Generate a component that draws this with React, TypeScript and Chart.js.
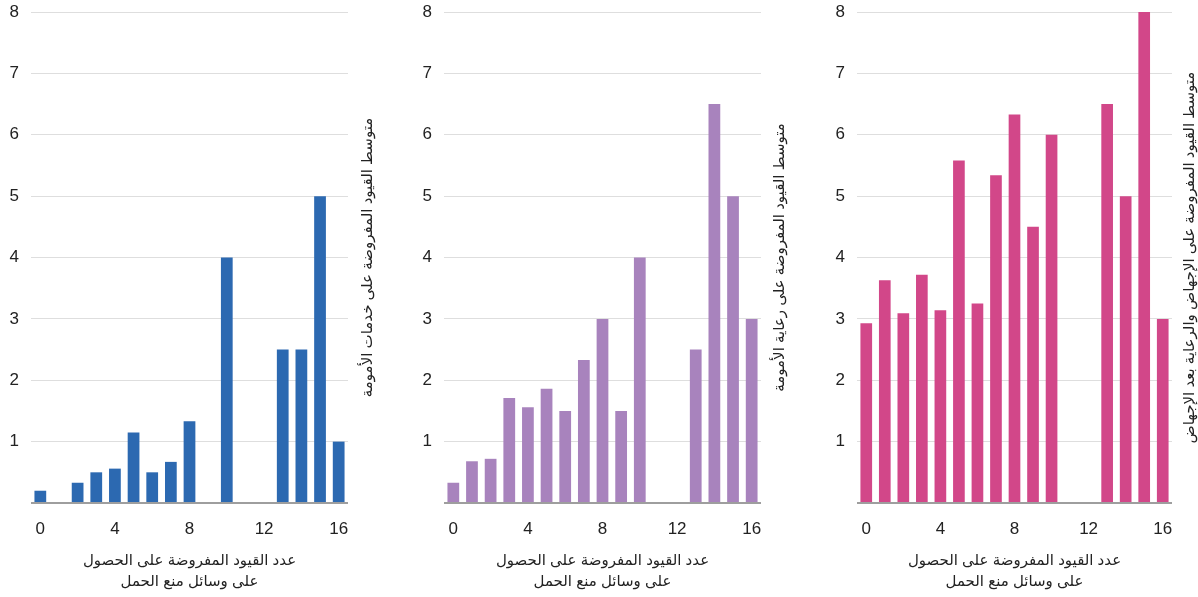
import { useEffect, useRef } from "react";
import { Chart, registerables } from "chart.js";

Chart.register(...registerables);

// Number of restrictions on access to contraception (x categories)
const restrictionCounts = ["0", "1", "2", "3", "4", "5", "6", "7", "8", "9", "10", "11", "12", "13", "14", "15", "16"];

// Average restrictions per group (null = no data for that count)
const maternalServices = [0.2, null, 0.33, 0.5, 0.56, 1.15, 0.5, 0.67, 1.33, null, 4, null, null, 2.5, 2.5, 5, 1];
const maternalCare = [0.33, 0.68, 0.72, 1.71, 1.56, 1.86, 1.5, 2.33, 3, 1.5, 4, null, null, 2.5, 6.5, 5, 3];
const abortionCare = [2.93, 3.63, 3.09, 3.72, 3.14, 5.58, 3.25, 5.34, 6.33, 4.5, 6, null, null, 6.5, 5, 8, 3];

const xTickEvery = 4;
const yMax = 8;

const xTitle = ["عدد القيود المفروضة على الحصول", "على وسائل منع الحمل"];
const yTitleServices = "متوسط القيود المفروضة على خدمات الأمومة";
const yTitleCare = "متوسط القيود المفروضة على رعاية الأمومة";
const yTitleAbortion = "متوسط القيود المفروضة على الإجهاض والرعاية بعد الإجهاض";

const FONT = "Arial, 'Liberation Sans', 'DejaVu Sans', sans-serif";

type PanelProps = {
  values: (number | null)[];
  color: string;
  yTitle: string;
  left: number;
  width: number;
  plotLeft: number;
  plotRight: number;
  titleGap: number;
};

function Panel({ values, color, yTitle, left, width, plotLeft, plotRight, titleGap }: PanelProps) {
  const ref = useRef<HTMLCanvasElement | null>(null);

  useEffect(() => {
    if (!ref.current) return;

    // Vertical title on the right side, read top-to-bottom (rotated counter-clockwise)
    const rightTitle = {
      id: "rightTitle",
      afterDraw(chart: any) {
        const { ctx, chartArea } = chart;
        ctx.save();
        ctx.translate(chartArea.right + titleGap, (chartArea.top + chartArea.bottom) / 2);
        ctx.rotate(-Math.PI / 2);
        ctx.font = `15px ${FONT}`;
        ctx.fillStyle = "#222222";
        ctx.textAlign = "center";
        ctx.textBaseline = "middle";
        ctx.fillText(yTitle, 0, 0);
        ctx.restore();
      },
    };

    const chart = new Chart(ref.current, {
      type: "bar",
      data: {
        labels: restrictionCounts,
        datasets: [
          {
            data: values,
            backgroundColor: color,
            borderWidth: 0,
            barPercentage: 0.63,
            categoryPercentage: 1,
          },
        ],
      },
      options: {
        animation: false,
        responsive: false,
        maintainAspectRatio: false,
        events: [],
        layout: { padding: { top: 12, left: 0, right: width - plotRight, bottom: 0 } },
        plugins: { legend: { display: false }, tooltip: { enabled: false } },
        scales: {
          x: {
            offset: true,
            grid: { display: false, drawTicks: false },
            border: { display: false },
            ticks: {
              autoSkip: false,
              maxRotation: 0,
              padding: 16,
              color: "#222222",
              font: { size: 17, family: FONT },
              callback: (_v: any, i: number) => (i % xTickEvery === 0 ? restrictionCounts[i] : ""),
            },
            title: {
              display: true,
              text: xTitle,
              color: "#222222",
              font: { size: 15, family: FONT, lineHeight: 1.45 },
              padding: { top: 0, bottom: 4 },
            },
            afterFit: (scale: any) => {
              scale.height = 94;
              scale.paddingLeft = 0;
              scale.paddingRight = 0;
            },
          },
          y: {
            min: 0,
            max: yMax,
            ticks: {
              stepSize: 1,
              padding: 12,
              color: "#222222",
              font: { size: 17, family: FONT },
              callback: (v: any) => (v === 0 ? "" : String(v)),
            },
            grid: {
              drawTicks: false,
              color: (c: any) => (c.tick && c.tick.value === 0 ? "#9e9e9e" : "#dedede"),
              lineWidth: (c: any) => (c.tick && c.tick.value === 0 ? 2 : 1),
            },
            border: { display: false },
            afterFit: (scale: any) => {
              scale.width = plotLeft;
              scale.paddingTop = 0;
              scale.paddingBottom = 0;
            },
          },
        },
      },
      plugins: [rightTitle],
    });

    return () => chart.destroy();
  }, [values, color, yTitle, width, plotLeft, plotRight, titleGap]);

  return (
    <canvas
      ref={ref}
      width={width}
      height={597}
      style={{ position: "absolute", left, top: 0, width, height: 597 }}
    />
  );
}

export default function App() {
  useEffect(() => {
    document.body.style.margin = "0";
  }, []);

  return (
    <div style={{ position: "relative", width: 1198, height: 597, background: "#ffffff", overflow: "hidden" }}>
      <Panel
        values={maternalServices}
        color="#2c69b1"
        yTitle={yTitleServices}
        left={0}
        width={392}
        plotLeft={31}
        plotRight={348}
        titleGap={20}
      />
      <Panel
        values={maternalCare}
        color="#a883bd"
        yTitle={yTitleCare}
        left={400}
        width={398}
        plotLeft={44}
        plotRight={361}
        titleGap={19}
      />
      <Panel
        values={abortionCare}
        color="#d24789"
        yTitle={yTitleAbortion}
        left={800}
        width={398}
        plotLeft={57}
        plotRight={372}
        titleGap={18}
      />
    </div>
  );
}
